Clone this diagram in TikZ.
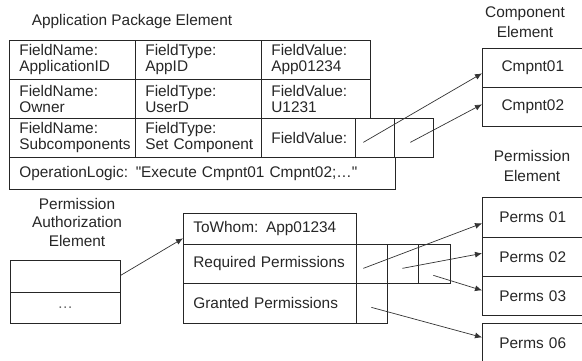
\documentclass[tikz,border=0pt]{standalone}
\usepackage{fontspec}
\setmainfont{Liberation Sans}[Ligatures=TeXOff]
\usetikzlibrary{arrows.meta}

\begin{document}
\begin{tikzpicture}[x=1pt, y=-1pt, line width=0.7pt,
    every node/.style={font=\fontsize{15.4}{16}\selectfont, text=black!85},
    cell/.style 2 args={draw=black!85, anchor=north west, inner xsep=10pt, inner ysep=0pt,
        minimum width=#1, minimum height=#2, text width=#1-20, align=left},
    title/.style={align=center, font=\fontsize{15.4}{20}\selectfont},
    link/.style={draw=black!80, -{Latex[length=7pt, width=6pt]}}]
    \useasboundingbox (0,0) rectangle (582,360);
    \clip (0,0) rectangle (582,360);

    \node (apptitle) at (132,22) {Application Package Element};
    \node[title] (comptitle) at (525,22) {Component\\Element};
    \node[title] (permtitle) at (532,166) {Permission\\Element};
    \node[title, font=\fontsize{15.4}{18.5}\selectfont] (authtitle) at (77,222) {Permission\\Authorization\\Element};

    \node[cell={126}{39}] (nameA) at (9,40) {FieldName:\\ApplicationID};
    \node[cell={126}{39}] (typeA) at (135,40) {FieldType:\\AppID};
    \node[cell={109}{39}] (valA) at (261,40) {FieldValue:\\App01234};
    \node[cell={126}{39}] (nameB) at (9,79) {FieldName:\\Owner};
    \node[cell={126}{39}] (typeB) at (135,79) {FieldType:\\UserD};
    \node[cell={109}{39}] (valB) at (261,79) {FieldValue:\\U1231};
    \node[cell={126}{39}] (nameC) at (9,118) {FieldName:\\\mbox{Subcomponents}};
    \node[cell={126}{39}] (typeC) at (135,118) {FieldType:\\\mbox{Set Component}};
    \node[cell={94}{39}] (valC) at (261,118) {FieldValue:};
    \node[cell={39}{39}] (cmpOne) at (355,118) {};
    \node[cell={39}{39}] (cmpTwo) at (394,118) {};
    \node[cell={386}{32}] (oplogic) at (9,157) {OperationLogic: "Execute Cmpnt01 Cmpnt02;\ldots"};

    \node[cell={101}{39}, align=center] (compA) at (482,48) {Cmpnt01};
    \node[cell={101}{39}, align=center] (compB) at (482,87) {Cmpnt02};

    \node[cell={110}{32}] (authA) at (10,260) {};
    \node[cell={110}{31}, align=center, text=black!60] (authB) at (10,292) {\ldots};

    \node[cell={173}{31}] (towhom) at (183,213) {ToWhom: App01234};
    \node[cell={173}{39}] (reqperm) at (183,244) {\mbox{Required Permissions}};
    \node[cell={31}{39}] (reqA) at (356,244) {};
    \node[cell={31}{39}] (reqB) at (387,244) {};
    \node[cell={32}{39}] (reqC) at (418,244) {};
    \node[cell={173}{40}] (grantperm) at (183,283) {Granted Permissions};
    \node[cell={31}{40}] (grantA) at (356,283) {};

    \node[cell={101}{40}, inner xsep=17pt, text width=67pt] (permA) at (482,197) {Perms 01};
    \node[cell={101}{39}, inner xsep=17pt, text width=67pt] (permB) at (482,237) {Perms 02};
    \node[cell={101}{39}, inner xsep=17pt, text width=67pt] (permC) at (482,276) {Perms 03};
    \node[cell={101}{40}, inner xsep=17pt, text width=67pt] (permF) at (482,323) {Perms 06};

    \path ([shift={(-11.5,4.5)}]cmpOne.center) edge[link] ([shift={(0,5.5)}]compA.west)
          ([shift={(-3.5,4.5)}]cmpTwo.center) edge[link] ([shift={(0,-2.5)}]compB.west)
          ([shift={(0,-1)}]authA.east) edge[link] ([shift={(0,9.5)}]towhom.west)
          ([shift={(-8.5,4.5)}]reqA.center) edge[link] ([shift={(0,6)}]permA.west)
          ([shift={(-0.5,4.5)}]reqB.center) edge[link] ([shift={(0,-3.5)}]permB.west)
          ([shift={(-1,11.5)}]reqC.center) edge[link] ([shift={(0,-5.5)}]permC.west)
          ([shift={(-0.5,4)}]grantA.center) edge[link] ([shift={(0,-6)}]permF.west);
\end{tikzpicture}
\end{document}
